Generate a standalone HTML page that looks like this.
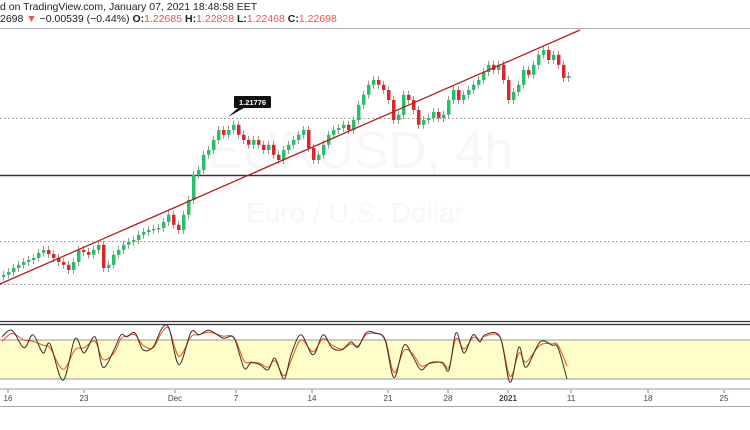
<!DOCTYPE html>
<html><head><meta charset="utf-8">
<style>
html,body{margin:0;padding:0;background:#fff;}
body{width:750px;height:430px;overflow:hidden;position:relative;font-family:"Liberation Sans",sans-serif;}
.hdr{position:absolute;left:0;font-size:10.5px;color:#222;white-space:nowrap;}
.red{color:#ef5350;}
</style></head><body>
<div class="hdr" style="top:1px">d on TradingView.com, January 07, 2021 18:48:58 EET</div>
<div class="hdr" style="top:13px">2698 <span class="red">▼</span> −0.00539 (−0.44%) <b>O:</b><span class="red">1.22685</span> <b>H:</b><span class="red">1.22828</span> <b>L:</b><span class="red">1.22468</span> <b>C:</b><span class="red">1.22698</span></div>
<svg id="chart" width="750" height="430" style="position:absolute;left:0;top:0"></svg>
<script>
const closes=[1.1783,1.1790,1.1800,1.1808,1.1815,1.1820,1.1825,1.1838,1.1845,1.1835,1.1825,1.1815,1.1808,1.1795,1.1815,1.1845,1.1840,1.1833,1.1845,1.1858,1.1800,1.1808,1.1833,1.1845,1.1858,1.1865,1.1870,1.1883,1.1890,1.1895,1.1898,1.1900,1.1915,1.1933,1.1908,1.1895,1.1933,1.1970,1.2033,1.2045,1.2083,1.2095,1.2120,1.2145,1.2133,1.2145,1.2158,1.2133,1.2120,1.2108,1.2120,1.2108,1.2095,1.2108,1.2083,1.2070,1.2095,1.2108,1.2120,1.2133,1.2145,1.2100,1.2070,1.2083,1.2108,1.2133,1.2145,1.2150,1.2158,1.2145,1.2170,1.2208,1.2233,1.2258,1.2270,1.2258,1.2245,1.2220,1.2170,1.2183,1.2233,1.2220,1.2195,1.2158,1.2170,1.2175,1.2190,1.2175,1.2183,1.2220,1.2245,1.2220,1.2233,1.2245,1.2258,1.2270,1.2290,1.2308,1.2295,1.2308,1.2270,1.2220,1.2240,1.2258,1.2295,1.2283,1.2308,1.2333,1.2345,1.2320,1.2333,1.2308,1.2275,1.2280];
const firstOpen=1.1778;
const hLevels=[1.2175,1.20325,1.18675,1.1760];
const hStyles=["dot","solid","dot","dot"];
const trendStart=[-0.4,1.1760];
const trendEnd=[115.6,1.2395];
const markerLabel="1.21776";
const stochIdx=[0,2,4.4,6.2,8.2,9.6,12.2,14.6,16.4,18.6,20.2,22.4,23.8,25,26.6,28.2,30.2,32,33.4,35.4,37.8,39.4,41.4,44.2,46.4,48.4,49.8,51.6,53.2,54.6,56.4,57.8,59.8,62.2,64.2,66,68,69.8,71.2,72.8,74.6,76.6,78.4,80.4,82.2,83.8,85.6,88,89.4,90.8,92.4,94.2,95.6,96.6,99.6,101.6,103.4,104.8,107.6,110,111.2,113];
const stochK=[85,95,68,88,60,74,18,82,60,85,38,65,88,85,91,65,69,98,98,42,92,88,95,83,83,37,45,42,34,52,20,57,88,57,88,68,65,77,69,91,91,80,22,72,54,34,45,45,34,91,60,88,77,88,85,15,69,38,77,72,68,20];
const stochD=[78,90,80,78,72,68,35,65,68,78,50,60,82,86,88,72,68,92,97,55,85,88,92,86,84,48,46,44,38,48,25,48,80,62,82,72,66,74,71,88,90,82,30,64,58,40,44,46,38,82,66,84,80,86,84,24,60,46,72,74,72,40];
const dateLabels=["16","23","Dec","7","14","21","28","2021","11","18","25"];
const dateIdx=[1.2,16.4,34.6,46.8,62,77.2,89.2,101.2,113.8,129.2,144.4];

const svg=document.getElementById('chart');const NS='http://www.w3.org/2000/svg';
function mk(t,a,p){const e=document.createElementNS(NS,t);for(const k in a)e.setAttribute(k,a[k]);(p||svg).appendChild(e);return e;}
const xS=i=>2+i*5;
const yS=p=>188-(p-1.2)*4000;
const yK=v=>392-v*0.65;

let e;
e=mk('line',{x1:0,y1:28.5,x2:750,y2:28.5,stroke:'#b0b0b0','stroke-width':1});

let t=mk('text',{x:360,y:168,'font-size':52,fill:'#f7f7f7','text-anchor':'middle','font-family':'Liberation Sans, sans-serif'});t.textContent='EURUSD, 4h';

t=mk('text',{x:355,y:222,'font-size':28,fill:'#f7f7f7','text-anchor':'middle','font-family':'Liberation Sans, sans-serif'});t.textContent='Euro / U.S. Dollar';


hLevels.forEach((p,i)=>{const y=Math.round(yS(p))+0.5;
 const l=mk('line',{x1:0,y1:y,x2:750,y2:y,stroke:hStyles[i]=='solid'?'#333':'#aaa','stroke-width':hStyles[i]=='solid'?1.5:1,'stroke-dasharray':hStyles[i]=='solid'?'':'2,2'});
 });

let prev=firstOpen;
closes.forEach((c,i)=>{const o=prev;prev=c;const up=c>=o;const x=xS(i);
 const top=yS(Math.max(o,c)),bot=yS(Math.min(o,c));
 const g=mk('g',{});
 
 mk('line',{x1:x+1.5,y1:top-4,x2:x+1.5,y2:bot+4,stroke:'#999','stroke-width':1},g);
 mk('rect',{x:x,y:top,width:3.5,height:Math.max(1.5,bot-top),fill:up?'#26c06a':'#e0242b'},g);});

e=mk('line',{x1:xS(trendStart[0]),y1:yS(trendStart[1]),x2:xS(trendEnd[0]),y2:yS(trendEnd[1]),stroke:'#b71c1c','stroke-width':1.3});


const mg=mk('g',{});
mk('path',{d:'M228 117 L238 108 L244 108 Z',fill:'#111'},mg);
mk('rect',{x:234,y:96,width:37,height:12,rx:1,fill:'#111'},mg);
t=mk('text',{x:252.5,y:105,'font-size':7.5,fill:'#fff','text-anchor':'middle','font-weight':'bold'},mg);t.textContent=markerLabel;

e=mk('line',{x1:0,y1:321.5,x2:750,y2:321.5,stroke:'#333','stroke-width':1.2});
mk('line',{x1:0,y1:324.5,x2:750,y2:324.5,stroke:'#333','stroke-width':1.2});
e=mk('rect',{x:0,y:yK(80),width:750,height:yK(20)-yK(80),fill:'#fffdc8'});

[80,20].forEach(v=>{const l=mk('line',{x1:0,y1:yK(v),x2:750,y2:yK(v),stroke:'#999','stroke-width':1});
 });
function line(arr,col,name){
 const P=arr.map((v,i)=>[xS(stochIdx[i]),yK(v)]);
 let d='M'+P[0][0]+','+P[0][1].toFixed(1);
 for(let i=0;i<P.length-1;i++){const p0=P[Math.max(0,i-1)],p1=P[i],p2=P[i+1],p3=P[Math.min(P.length-1,i+2)];
  const c1=[p1[0]+(p2[0]-p0[0])/6,p1[1]+(p2[1]-p0[1])/6],c2=[p2[0]-(p3[0]-p1[0])/6,p2[1]-(p3[1]-p1[1])/6];
  d+=' C'+c1[0].toFixed(1)+','+c1[1].toFixed(1)+' '+c2[0].toFixed(1)+','+c2[1].toFixed(1)+' '+p2[0].toFixed(1)+','+p2[1].toFixed(1);}
 const p=mk('path',{d:d,fill:'none',stroke:col,'stroke-width':1,'stroke-linejoin':'round'});
 }
line(stochD,'#f44b1c','stoch-d-line');
line(stochK,'#333','stoch-k-line');

e=mk('rect',{x:0,y:388,width:750,height:2,fill:'#ccc'});
e=mk('line',{x1:0,y1:406.5,x2:750,y2:406.5,stroke:'#aaa','stroke-width':1});
dateLabels.forEach((s,i)=>{const x=xS(dateIdx[i]);
 mk('line',{x1:x,y1:390,x2:x,y2:393,stroke:'#888','stroke-width':1});
 const tt=mk('text',{x:x,y:401,'font-size':8,fill:'#444','text-anchor':'middle','font-weight':s=='2021'?'bold':'normal'});
 tt.textContent=s;
 });
</script>
</body></html>
